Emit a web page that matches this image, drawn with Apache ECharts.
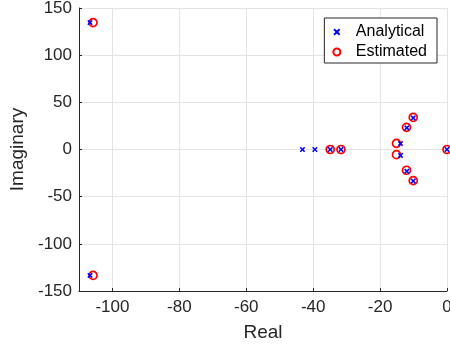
<!DOCTYPE html>
<html><head><meta charset="utf-8">
<script src="https://cdn.jsdelivr.net/npm/echarts@6/dist/echarts.min.js"></script>
<style>html,body{margin:0;padding:0;background:#fff}#c{width:450px;height:346px}</style>
</head><body><div id="c"></div>
<script>
const analyticalReal = [-106.7, -106.7, -43.2, -39.5, -34.9, -31.7, -13.9, -13.9, -12.0, -12.0, -10.1, -10.1, 0];
const analyticalImag = [134.5, -133.5, 0, 0, 0, 0, 6.3, -6.3, 23, -23, 33.5, -33.5, 0];
const estimatedReal = [-105.8, -105.8, -34.9, -31.7, -15.1, -15.1, -12.1, -12.1, -10.1, -10.1, 0];
const estimatedImag = [134.5, -133.5, 0, 0, 6.5, -5.5, 23.5, -22, 34, -33, 0];
const xTicks = [-100, -80, -60, -40, -20, 0];
const yTicks = [-150, -100, -50, 0, 50, 100, 150];

const pair = (a, b) => a.map((v, i) => [v, b[i]]);
const txt = '#262626';
const font = 'Liberation Sans, Arial, sans-serif';
const chart = echarts.init(document.getElementById('c'), null, {renderer: 'canvas'});
chart.setOption({
  animation: false,
  backgroundColor: '#fff',
  grid: {left: 79, right: 3, top: 8, bottom: 55, containLabel: false, outerBoundsMode: 'none'},
  legend: {
    orient: 'vertical', right: 13, top: 18,
    backgroundColor: '#fff', borderColor: txt, borderWidth: 1,
    padding: [6, 10, 3, 8], itemGap: 4, itemWidth: 28, itemHeight: 7,
    textStyle: {fontFamily: font, fontSize: 16, color: '#000'},
    data: ['Analytical', 'Estimated']
  },
  xAxis: {
    type: 'value', min: -110, max: 0,
    name: 'Real', nameLocation: 'middle', nameGap: 32,
    nameTextStyle: {fontFamily: font, fontSize: 19, color: txt},
    axisLine: {show: true, onZero: false, lineStyle: {color: txt, width: 1}},
    axisTick: {show: true, inside: true, length: 3, customValues: xTicks, lineStyle: {color: txt}},
    axisLabel: {customValues: xTicks, fontFamily: font, fontSize: 17, color: txt, margin: 8},
    splitLine: {show: true, lineStyle: {color: '#e3e3e3', width: 1}}
  },
  yAxis: {
    type: 'value', min: -150, max: 150, interval: 50,
    name: 'Imaginary', nameLocation: 'middle', nameGap: 47,
    nameTextStyle: {fontFamily: font, fontSize: 19, color: txt},
    axisLine: {show: true, onZero: false, lineStyle: {color: txt, width: 1}},
    axisTick: {show: true, inside: true, length: 3, lineStyle: {color: txt}},
    axisLabel: {fontFamily: font, fontSize: 17, color: txt, margin: 7},
    splitLine: {show: true, lineStyle: {color: '#e3e3e3', width: 1}}
  },
  series: [
    {
      name: 'Estimated', type: 'scatter', z: 2,
      data: pair(estimatedReal, estimatedImag),
      symbol: 'circle', symbolSize: 8,
      itemStyle: {color: 'rgba(255,255,255,0)', borderColor: '#ff0000', borderWidth: 1.7, opacity: 1}
    },
    {
      name: 'Analytical', type: 'scatter', z: 3,
      data: pair(analyticalReal, analyticalImag),
      symbol: 'path://M0,2L2,0L5,3L8,0L10,2L7,5L10,8L8,10L5,7L2,10L0,8L3,5Z', symbolSize: 5.5,
      itemStyle: {color: '#0000ff', opacity: 1}
    }
  ]
});
</script></body></html>
